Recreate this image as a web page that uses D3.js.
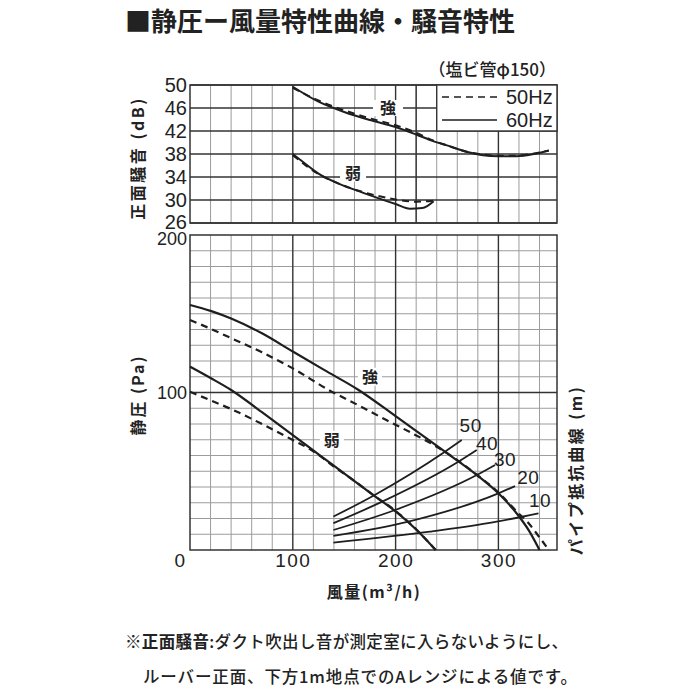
<!DOCTYPE html>
<html><head><meta charset="utf-8">
<script src="https://cdn.jsdelivr.net/npm/d3@7/dist/d3.min.js"></script>
<style>
html,body{margin:0;padding:0;background:#fff;}
svg{display:block;}
text{font-family:"Liberation Sans","Noto Sans CJK JP",sans-serif;fill:#222;}
.jp{font-family:"Noto Sans CJK JP",sans-serif;}
</style></head><body>
<svg id="c" width="700" height="700"></svg>
<script>
// ---------- data ----------
const xTicks = [0, 100, 200, 300];
const dbTicks = [50, 46, 42, 38, 34, 30, 26];
const paTicks = [100, 200];
const pipeLengths = ["50", "40", "30", "20", "10"];

// noise (dB) vs flow (m3/h)
const noiseStrong60 = [[100,49.7],[125,47.1],[150,45.3],[175,43.9],[200,42.7],[220,41.4],[237,40.2],[250,39.5],[269,38.4],[285,37.8],[300,37.6],[315,37.6],[328,37.8],[349,38.6]];
const noiseStrong50 = [[100,49.5],[125,47.3],[150,45.6],[175,44.2],[200,43.0],[220,41.7],[237,40.3],[250,39.5],[269,38.4],[285,37.9],[300,37.7],[315,37.7],[328,37.9],[349,38.6]];
const noiseWeak60 = [[100,38.0],[110,36.6],[125,34.6],[144,32.9],[160,31.8],[174,30.9],[200,29.3],[214,28.5],[226,28.6],[237,29.8]];
const noiseWeak50 = [[100,37.8],[125,34.5],[144,32.9],[174,31.1],[200,30.1],[220,29.7],[237,29.9]];

// static pressure (Pa) vs flow (m3/h)
const paStrong60 = [[0,155.6],[20,151.8],[40,147],[70,137.6],[100,126],[130,114.5],[164,101.6],[200,85],[248,62.4],[279,47.6],[300,36],[319,22.2],[330,12],[340,0]];
const paStrong50 = [[0,146],[20,140.5],[40,134.5],[70,125.5],[100,115.3],[135,101.6],[165,91.5],[191,82.5],[215,74.5],[237,66.7],[250,61.5],[279,47.8],[300,36.5],[320,23],[328,18],[340,8],[349,0]];
const paWeak60 = [[0,116.4],[20,109.2],[40,101.6],[70,87.5],[100,73],[126,60.3],[160,43.7],[178,35],[200,24.5],[220,13],[239,0]];
const paWeak50 = [[0,100.5],[20,95],[40,89.5],[70,80],[100,69.8],[118,63.5],[140,53],[160,43.8],[178,35],[200,24.8],[220,13.2],[239,0]];

// pipe resistance curves (m)
const pipe50 = [[139.5,21.2],[178.4,34.5],[248,62.4],[264.3,69.8]];
const pipe40 = [[139.5,17],[188,31],[261,56],[279,63.5]];
const pipe30 = [[139.5,12.7],[199.5,25.4],[279,47.6],[296.8,54]];
const pipe20 = [[139.5,8.9],[212.4,18],[300,36],[316.2,40.6]];
const pipe10 = [[139.5,4.7],[233.5,11.6],[290,17],[339,23.3]];

// ---------- drawing ----------
const svg = d3.select('#c');
const x = d3.scaleLinear().domain([0, 357]).range([190, 557]);
const yT = d3.scaleLinear().domain([26, 50]).range([223, 85]);
const yB = d3.scaleLinear().domain([0, 200]).range([550, 235]);
const MINOR = '#9c9c9c', MAJOR = '#333', INK = '#1e1e1e';

// title
svg.append('text').attr('class','jp').attr('x',125).attr('y',31)
  .attr('font-size',26).attr('font-weight',700).text('■静圧ー風量特性曲線・騒音特性');
svg.append('text').attr('class','jp').attr('x',556).attr('y',76).attr('text-anchor','end')
  .attr('font-size',17).attr('font-weight',500).text('（塩ビ管φ150）');

// ---- top panel grid ----
const gT = svg.append('g');
const minorX = d3.range(20, 357, 20).filter(v => v % 100 !== 0);
gT.selectAll('.mv').data(minorX).join('line')
  .attr('x1', d => x(d)).attr('x2', d => x(d)).attr('y1', yT(26)).attr('y2', yT(50))
  .attr('stroke', MINOR).attr('stroke-width', 1);
gT.selectAll('.Mv').data([100, 200, 220, 300]).join('line')
  .attr('x1', d => x(d)).attr('x2', d => x(d)).attr('y1', yT(26)).attr('y2', yT(50))
  .attr('stroke', MAJOR).attr('stroke-width', 1.4);
gT.selectAll('.h').data(dbTicks).join('line')
  .attr('x1', x(0)).attr('x2', x(357)).attr('y1', d => yT(d)).attr('y2', d => yT(d))
  .attr('stroke', MAJOR).attr('stroke-width', 1.3);
gT.append('rect').attr('x', x(0)).attr('y', yT(50)).attr('width', x(357)-x(0)).attr('height', yT(26)-yT(50))
  .attr('fill','none').attr('stroke', MAJOR).attr('stroke-width', 1.5);
// legend box
gT.append('rect').attr('x', x(240)).attr('y', yT(50)).attr('width', x(357)-x(240)).attr('height', yT(42)-yT(50))
  .attr('fill','#fff').attr('stroke', MAJOR).attr('stroke-width', 1.4);

// top axis labels
const axT = svg.append('g').attr('transform', `translate(${x(0)},0)`)
  .call(d3.axisLeft(yT).tickValues(dbTicks).tickSize(0).tickPadding(3));
axT.select('.domain').remove();
axT.selectAll('text').attr('font-size', 20).attr('font-family','Liberation Sans').attr('fill', INK);
axT.selectAll('text').filter(d => d === 26).attr('dy', '0.26em');

// labels with white background
function bgLabel(g, t, cx, cy, w, h, fs) {
  g.append('rect').attr('x', cx - w/2).attr('y', cy - h/2).attr('width', w).attr('height', h).attr('fill', '#fff');
  g.append('text').attr('class','jp').attr('x', cx).attr('y', cy).attr('dy','0.36em')
    .attr('text-anchor','middle').attr('font-size', fs).attr('font-weight',700).text(t);
}
bgLabel(gT, '強', x(192.6), yT(46), 30, 16, 16);
bgLabel(gT, '弱', x(158.6), yT(34.6), 26, 16, 16);

// top curves
const lineT = d3.line().x(d => x(d[0])).y(d => yT(d[1])).curve(d3.curveMonotoneX);
[[noiseStrong50, true], [noiseWeak50, true], [noiseStrong60, false], [noiseWeak60, false]].forEach(([s, dash]) => {
  gT.append('path').attr('d', lineT(s)).attr('fill','none').attr('stroke', INK)
    .attr('stroke-width', 2).attr('stroke-dasharray', dash ? '7,5' : null);
});

// legend
gT.append('line').attr('x1', 442).attr('x2', 497).attr('y1', 97).attr('y2', 97)
  .attr('stroke', INK).attr('stroke-width', 1.6).attr('stroke-dasharray','7,5');
gT.append('line').attr('x1', 442).attr('x2', 497).attr('y1', 120).attr('y2', 120)
  .attr('stroke', INK).attr('stroke-width', 1.6);
gT.append('text').attr('x', 506).attr('y', 97).attr('dy','0.36em').attr('font-size', 20).text('50Hz');
gT.append('text').attr('x', 506).attr('y', 120).attr('dy','0.36em').attr('font-size', 20).text('60Hz');

// ---- bottom panel ----
const gB = svg.append('g');
gB.selectAll('.mv').data(minorX).join('line')
  .attr('x1', d => x(d)).attr('x2', d => x(d)).attr('y1', yB(0)).attr('y2', yB(200))
  .attr('stroke', MINOR).attr('stroke-width', 1);
gB.selectAll('.mh').data(d3.range(10, 200, 10).filter(v => v !== 100)).join('line')
  .attr('x1', x(0)).attr('x2', x(357)).attr('y1', d => yB(d)).attr('y2', d => yB(d))
  .attr('stroke', MINOR).attr('stroke-width', 1);
gB.selectAll('.Mv').data([100, 200, 300]).join('line')
  .attr('x1', d => x(d)).attr('x2', d => x(d)).attr('y1', yB(0)).attr('y2', yB(200))
  .attr('stroke', MAJOR).attr('stroke-width', 1.4);
gB.append('line').attr('x1', x(0)).attr('x2', x(357)).attr('y1', yB(100)).attr('y2', yB(100))
  .attr('stroke', MAJOR).attr('stroke-width', 1.4);
gB.append('rect').attr('x', x(0)).attr('y', yB(200)).attr('width', x(357)-x(0)).attr('height', yB(0)-yB(200))
  .attr('fill','none').attr('stroke', MAJOR).attr('stroke-width', 1.5);

bgLabel(gB, '強', x(175), yB(110), 24, 18, 16);
bgLabel(gB, '弱', x(138), yB(70), 24, 18, 16);

const lineB = d3.line().x(d => x(d[0])).y(d => yB(d[1])).curve(d3.curveMonotoneX);
[[paStrong50, true], [paWeak50, true], [paStrong60, false], [paWeak60, false]].forEach(([s, dash]) => {
  gB.append('path').attr('d', lineB(s)).attr('fill','none').attr('stroke', INK)
    .attr('stroke-width', 2.2).attr('stroke-dasharray', dash ? '7,5' : null);
});
const pipes = [pipe50, pipe40, pipe30, pipe20, pipe10];
pipes.forEach(s => {
  gB.append('path').attr('d', lineB(s)).attr('fill','none').attr('stroke', INK).attr('stroke-width', 1.8);
});
const pipeLabelPos = [[273,79],[289,68],[306.4,57.6],[329,46.5],[340.5,31.7]];
pipeLengths.forEach((t, i) => {
  gB.append('text').attr('x', x(pipeLabelPos[i][0])).attr('y', yB(pipeLabelPos[i][1])).attr('dy','0.36em')
    .attr('text-anchor','middle').attr('font-size', 19).attr('letter-spacing', 0.5).text(t);
});

// bottom axes
const axL = svg.append('g').attr('transform', `translate(${x(0)},0)`)
  .call(d3.axisLeft(yB).tickValues(paTicks).tickSize(0).tickPadding(3));
axL.select('.domain').remove();
axL.selectAll('text').attr('font-size', 18).attr('font-family','Liberation Sans').attr('fill', INK);
axL.selectAll('text').filter(d => d === 200).attr('dy', '0.5em');
const axX = svg.append('g').attr('transform', `translate(0,${yB(0)})`)
  .call(d3.axisBottom(x).tickValues(xTicks).tickSize(0).tickPadding(4));
axX.select('.domain').remove();
axX.selectAll('text').attr('font-size', 19).attr('font-family','Liberation Sans').attr('fill', INK)
  .attr('letter-spacing', 1.5).attr('dy', '0.71em');
axX.selectAll('text').filter(d => d === 0).attr('x', -10);

// axis titles
svg.append('text').attr('class','jp').attr('transform','translate(138,158) rotate(-90)')
  .attr('text-anchor','middle').attr('dy','0.35em').attr('font-size',16).attr('font-weight',700)
  .attr('letter-spacing',2.5).text('正面騒音 (dB)');
svg.append('text').attr('class','jp').attr('transform','translate(138,395) rotate(-90)')
  .attr('text-anchor','middle').attr('dy','0.35em').attr('font-size',16).attr('font-weight',700)
  .attr('letter-spacing',2).text('静圧 (Pa)');
svg.append('text').attr('class','jp').attr('transform','translate(576,470) rotate(-90)')
  .attr('text-anchor','middle').attr('dy','0.35em').attr('font-size',16).attr('font-weight',700)
  .attr('letter-spacing',2.5).text('パイプ抵抗曲線 (m)');
svg.append('text').attr('class','jp').attr('x',374).attr('y',592).attr('dy','0.35em')
  .attr('text-anchor','middle').attr('font-size',16).attr('font-weight',700)
  .attr('letter-spacing',1.5).text('風量(m³/h)');

// footnote
const f1 = svg.append('text').attr('class','jp').attr('x',125).attr('y',648).attr('font-size',16.5)
  .attr('font-weight',500).attr('textLength',443).attr('lengthAdjust','spacing');
f1.append('tspan').attr('font-weight',700).text('※正面騒音');
f1.append('tspan').text(':ダクト吹出し音が測定室に入らないようにし、');
svg.append('text').attr('class','jp').attr('x',143).attr('y',683).attr('font-size',16.5)
  .attr('font-weight',500).attr('textLength',434).attr('lengthAdjust','spacing')
  .text('ルーバー正面、下方1m地点でのAレンジによる値です。');
</script>
</body></html>
